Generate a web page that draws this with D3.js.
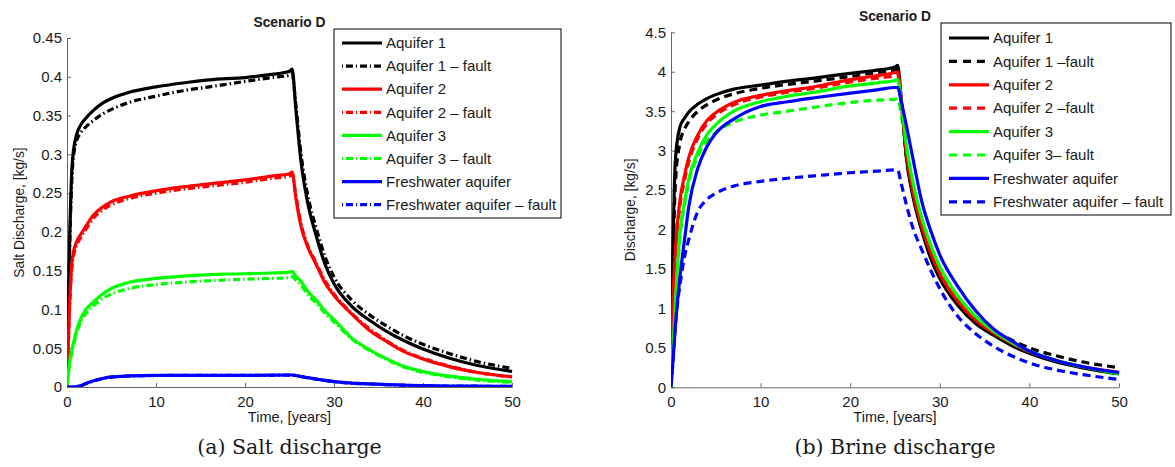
<!DOCTYPE html>
<html>
<head>
  <title>Scenario D discharge</title>
  <script src="https://d3js.org/d3.v7.min.js"></script>
  <style>
    body { margin: 0; background: #fff; }
    text { font-family: "Liberation Sans", Arial, sans-serif; fill: #1a1a1a; }
    .caption { font-family: "DejaVu Serif", "Liberation Serif", serif; font-size: 20.5px; }
    .axis path, .axis line { stroke: #666; }
  </style>
</head>
<body>
  <div id="chart"></div>

  <script>
    // time grids (years)
    const timeSalt = [0, 0.3, 0.6, 1, 1.5, 2, 3, 4, 5, 7, 10, 13, 16, 20, 23, 25, 25.3, 25.7, 26.3, 27, 28, 29, 30, 32, 34, 36, 38, 40, 43, 46, 50];
    const timeBrine = [0, 0.2, 0.5, 1, 1.5, 2, 3, 4, 5, 7, 10, 13, 16, 20, 23, 25, 25.3, 25.7, 26.3, 27, 28, 29, 30, 32, 34, 36, 38, 40, 43, 46, 50];

    // (a) salt discharge, kg/s
    const saltAq1 = [0, 0.19, 0.29, 0.322, 0.337, 0.345, 0.357, 0.366, 0.372, 0.380, 0.387, 0.392, 0.396, 0.399, 0.403, 0.407, 0.410, 0.36, 0.29, 0.24, 0.195, 0.158, 0.133, 0.104, 0.086, 0.071, 0.059, 0.049, 0.037, 0.028, 0.020];
    const saltAq1Fault = [0, 0.18, 0.28, 0.315, 0.327, 0.334, 0.344, 0.352, 0.358, 0.367, 0.375, 0.382, 0.387, 0.394, 0.399, 0.402, 0.404, 0.365, 0.30, 0.25, 0.205, 0.168, 0.142, 0.112, 0.093, 0.078, 0.065, 0.055, 0.043, 0.033, 0.024];
    const saltAq2 = [0, 0.11, 0.165, 0.185, 0.196, 0.205, 0.222, 0.232, 0.239, 0.246, 0.253, 0.258, 0.262, 0.267, 0.272, 0.275, 0.277, 0.245, 0.207, 0.182, 0.158, 0.134, 0.118, 0.094, 0.073, 0.058, 0.045, 0.036, 0.026, 0.019, 0.013];
    const saltAq2Fault = [0, 0.105, 0.16, 0.18, 0.192, 0.201, 0.218, 0.228, 0.235, 0.243, 0.250, 0.255, 0.259, 0.264, 0.269, 0.272, 0.274, 0.248, 0.210, 0.184, 0.160, 0.137, 0.120, 0.095, 0.075, 0.059, 0.046, 0.037, 0.027, 0.019, 0.013];
    const saltAq3 = [0, 0.033, 0.05, 0.07, 0.087, 0.098, 0.11, 0.12, 0.127, 0.135, 0.140, 0.143, 0.145, 0.146, 0.147, 0.148, 0.149, 0.143, 0.136, 0.124, 0.112, 0.098, 0.087, 0.063, 0.048, 0.036, 0.026, 0.020, 0.014, 0.010, 0.007];
    const saltAq3Fault = [0, 0.03, 0.047, 0.066, 0.083, 0.093, 0.105, 0.114, 0.120, 0.127, 0.132, 0.135, 0.137, 0.139, 0.140, 0.141, 0.142, 0.138, 0.131, 0.120, 0.108, 0.095, 0.084, 0.062, 0.047, 0.035, 0.025, 0.019, 0.013, 0.009, 0.006];
    const saltFresh = [0, 0, 0, 0.0005, 0.0015, 0.004, 0.008, 0.011, 0.013, 0.0143, 0.015, 0.015, 0.015, 0.015, 0.0152, 0.0155, 0.0155, 0.0148, 0.0135, 0.012, 0.0103, 0.0085, 0.007, 0.005, 0.004, 0.003, 0.0023, 0.0018, 0.0013, 0.001, 0.0008];
    const saltFreshFault = [0, 0, 0, 0.0004, 0.0013, 0.0038, 0.0078, 0.0108, 0.0128, 0.0141, 0.0148, 0.0149, 0.0149, 0.0149, 0.0151, 0.0153, 0.0153, 0.0147, 0.0134, 0.0119, 0.0102, 0.0084, 0.0069, 0.0049, 0.0039, 0.0029, 0.0022, 0.0017, 0.0012, 0.001, 0.0008];

    // (b) brine discharge, kg/s
    const brineAq1 = [0, 1.6, 2.9, 3.30, 3.41, 3.49, 3.59, 3.66, 3.71, 3.78, 3.83, 3.88, 3.92, 3.98, 4.02, 4.06, 4.08, 3.65, 2.88, 2.42, 1.98, 1.63, 1.38, 1.04, 0.81, 0.66, 0.53, 0.43, 0.32, 0.245, 0.17];
    const brineAq1Fault = [0, 1.4, 2.6, 3.1, 3.27, 3.37, 3.50, 3.58, 3.64, 3.72, 3.79, 3.84, 3.88, 3.94, 3.99, 4.02, 4.03, 3.62, 2.90, 2.45, 2.02, 1.68, 1.43, 1.10, 0.87, 0.72, 0.60, 0.50, 0.40, 0.32, 0.25];
    const brineAq2 = [0, 1.0, 1.75, 2.37, 2.68, 2.92, 3.20, 3.38, 3.48, 3.61, 3.70, 3.76, 3.81, 3.90, 3.95, 3.99, 4.00, 3.62, 2.95, 2.48, 2.03, 1.70, 1.44, 1.09, 0.85, 0.69, 0.56, 0.45, 0.34, 0.26, 0.19];
    const brineAq2Fault = [0, 0.95, 1.7, 2.3, 2.62, 2.86, 3.16, 3.34, 3.45, 3.58, 3.68, 3.74, 3.79, 3.87, 3.92, 3.95, 3.96, 3.58, 2.92, 2.45, 2.00, 1.68, 1.42, 1.07, 0.83, 0.67, 0.55, 0.44, 0.33, 0.25, 0.18];
    const brineAq3 = [0, 0.45, 1.1, 1.96, 2.35, 2.65, 2.98, 3.20, 3.33, 3.50, 3.62, 3.69, 3.74, 3.82, 3.86, 3.89, 3.90, 3.60, 3.05, 2.60, 2.14, 1.80, 1.53, 1.16, 0.90, 0.71, 0.57, 0.46, 0.34, 0.26, 0.17];
    const brineAq3Fault = [0, 0.4, 1.05, 1.9, 2.3, 2.6, 2.93, 3.12, 3.23, 3.36, 3.45, 3.50, 3.55, 3.61, 3.64, 3.65, 3.66, 3.45, 2.98, 2.52, 2.08, 1.74, 1.47, 1.12, 0.87, 0.69, 0.56, 0.45, 0.33, 0.25, 0.16];
    const brineFresh = [0, 0.3, 0.8, 1.4, 1.86, 2.3, 2.78, 3.05, 3.22, 3.40, 3.56, 3.62, 3.67, 3.73, 3.77, 3.80, 3.80, 3.62, 3.30, 2.90, 2.35, 1.98, 1.68, 1.28, 0.97, 0.74, 0.59, 0.46, 0.34, 0.26, 0.185];
    const brineFreshFault = [0, 0.3, 0.8, 1.3, 1.65, 1.88, 2.23, 2.38, 2.46, 2.55, 2.61, 2.65, 2.68, 2.72, 2.74, 2.755, 2.75, 2.58, 2.30, 2.02, 1.74, 1.48, 1.25, 0.90, 0.68, 0.52, 0.40, 0.31, 0.22, 0.16, 0.10];

    const xTicks = [0, 10, 20, 30, 40, 50];
    const saltTicks = [0, 0.05, 0.1, 0.15, 0.2, 0.25, 0.3, 0.35, 0.4, 0.45];
    const brineTicks = [0, 0.5, 1, 1.5, 2, 2.5, 3, 3.5, 4, 4.5];

    const saltNames = ["Aquifer 1", "Aquifer 1 \u2013 fault", "Aquifer 2", "Aquifer 2 \u2013 fault", "Aquifer 3", "Aquifer 3 \u2013 fault", "Freshwater aquifer", "Freshwater aquifer \u2013 fault"];
    const brineNames = ["Aquifer 1", "Aquifer 1 \u2013fault", "Aquifer 2", "Aquifer 2 \u2013fault", "Aquifer 3", "Aquifer 3\u2013 fault", "Freshwater aquifer", "Freshwater aquifer \u2013 fault"];
    const seriesColors = ["#000000", "#000000", "#ff0000", "#ff0000", "#00ff00", "#00ff00", "#0000ff", "#0000ff"];

    const svg = d3.select("#chart").append("svg")
      .attr("width", 1175)
      .attr("height", 467);

    function drawPanel(p) {
      const x = d3.scaleLinear().domain([0, 50]).range([p.left, p.right]);
      const y = d3.scaleLinear().domain([0, p.ticks[p.ticks.length - 1]]).range([p.bottom, p.top]);

      const g = svg.append("g");

      g.append("clipPath").attr("id", p.id + "-clip")
        .append("rect")
        .attr("x", p.left).attr("y", p.top - 2)
        .attr("width", p.right - p.left + 2).attr("height", p.bottom - p.top + 2);

      // axes (MATLAB style, ticks pointing inward)
      g.append("g")
        .attr("class", "axis")
        .attr("transform", "translate(0," + p.bottom + ")")
        .call(d3.axisBottom(x).tickValues(xTicks).tickSizeInner(-4).tickSizeOuter(0).tickPadding(8))
        .call(a => a.selectAll("text").style("font-size", "15px").attr("dy", "0.8em"));

      g.append("g")
        .attr("class", "axis")
        .attr("transform", "translate(" + p.left + ",0)")
        .call(d3.axisLeft(y).tickValues(p.ticks).tickFormat(d3.format("")).tickSizeInner(-4).tickSizeOuter(0).tickPadding(5))
        .call(a => a.selectAll("text").style("font-size", "15px"));

      const line = d3.line()
        .x((d, i) => x(p.time[i]))
        .y(d => y(d))
        .curve(d3.curveMonotoneX);

      const lines = g.append("g").attr("clip-path", "url(#" + p.id + "-clip)");
      // draw fault curves first, solid ones on top
      const order = [1, 3, 5, 7, 0, 2, 4, 6];
      order.forEach(i => {
        lines.append("path")
          .attr("d", line(p.series[i]))
          .attr("fill", "none")
          .attr("stroke", seriesColors[i])
          .attr("stroke-width", 3.2)
          .attr("stroke-linejoin", "round")
          .attr("stroke-dasharray", i % 2 ? p.dash : null);
      });

      // title and axis labels
      g.append("text")
        .attr("x", (p.left + p.right) / 2)
        .attr("y", p.titleY)
        .attr("text-anchor", "middle")
        .style("font-size", "13.8px")
        .style("font-weight", "bold")
        .text("Scenario D");

      g.append("text")
        .attr("x", (p.left + p.right) / 2)
        .attr("y", 422)
        .attr("text-anchor", "middle")
        .style("font-size", "14.5px")
        .text("Time, [years]");

      g.append("text")
        .attr("transform", "translate(" + p.yLabelX + "," + ((p.top + p.bottom) / 2) + ") rotate(-90)")
        .attr("text-anchor", "middle")
        .attr("dy", "0.35em")
        .style("font-size", "13.8px")
        .text(p.yLabel);

      // legend
      const lg = g.append("g");
      lg.append("rect")
        .attr("x", p.legX).attr("y", p.legY)
        .attr("width", p.legW).attr("height", p.legH)
        .attr("fill", "#fff").attr("stroke", "#000").attr("stroke-width", 1);
      p.names.forEach((name, i) => {
        const yy = p.legY + p.legFirst + i * p.legStep;
        lg.append("line")
          .attr("x1", p.legX + 8).attr("x2", p.legX + 48)
          .attr("y1", yy).attr("y2", yy)
          .attr("stroke", seriesColors[i])
          .attr("stroke-width", 3.2)
          .attr("stroke-dasharray", i % 2 ? p.legDash : null);
        lg.append("text")
          .attr("x", p.legX + 52).attr("y", yy)
          .attr("dy", "0.35em")
          .style("font-size", "15px")
          .text(name);
      });

      g.append("text")
        .attr("class", "caption")
        .attr("x", (p.left + p.right) / 2)
        .attr("y", 454)
        .attr("text-anchor", "middle")
        .text(p.caption);
    }

    drawPanel({
      id: "salt", left: 67, right: 512, top: 38, bottom: 387,
      ticks: saltTicks, time: timeSalt,
      series: [saltAq1, saltAq1Fault, saltAq2, saltAq2Fault, saltAq3, saltAq3Fault, saltFresh, saltFreshFault],
      dash: "7,3,1.5,3", legDash: "1,3,7,3",
      names: saltNames, titleY: 26.5, yLabel: "Salt Discharge, [kg/s]", yLabelX: 19,
      legX: 334, legY: 29, legW: 227, legH: 189, legFirst: 14, legStep: 23.1,
      caption: "(a) Salt discharge"
    });

    drawPanel({
      id: "brine", left: 671, right: 1119, top: 32.3, bottom: 387.3,
      ticks: brineTicks, time: timeBrine,
      series: [brineAq1, brineAq1Fault, brineAq2, brineAq2Fault, brineAq3, brineAq3Fault, brineFresh, brineFreshFault],
      dash: "8,5", legDash: "8,6",
      names: brineNames, titleY: 20.5, yLabel: "Discharge, [kg/s]", yLabelX: 630,
      legX: 941, legY: 23, legW: 230, legH: 192, legFirst: 15, legStep: 23.4,
      caption: "(b) Brine discharge"
    });
  </script>
</body>
</html>
